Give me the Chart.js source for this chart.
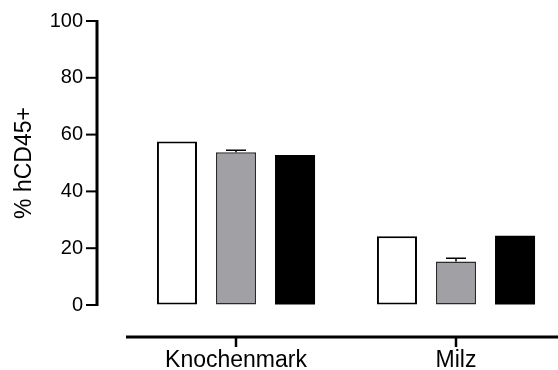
<!DOCTYPE html>
<html>
<head>
<meta charset="utf-8">
<script src="https://cdn.jsdelivr.net/npm/chart.js@4/dist/chart.umd.min.js"></script>
<style>
    html, body {margin: 0; padding: 0; background: #fff; overflow: hidden;}
    #wrap {width: 566px; height: 370px; position: relative;}
</style>
</head>
<body>
<div id="wrap"><canvas id="hcd_chart"></canvas></div>
<script>
var organs = ['Knochenmark', 'Milz'];
var group_a = [57.6, 24.2];
var group_b = [53.8, 15.3];
var group_c = [52.8, 24.4];
var err_a = [0, 0];
var err_b = [0.7, 1.2];
var err_c = [0, 0];
var y_ticks = [0, 20, 40, 60, 80, 100];

var errors = [err_a, err_b, err_c];
var font_family = "'Liberation Sans', Arial, sans-serif";

//prism style axes, pulled away from the bars
var offsetAxes = {
    id: 'offsetAxes',
    afterDatasetsDraw: function (chart) {
        var ctx = chart.ctx;
        var area = chart.chartArea;
        var y = chart.scales.y;
        var x = chart.scales.x;
        ctx.save();
        ctx.strokeStyle = '#000';

        // error bars
        ctx.lineWidth = 1.5;
        errors.forEach(function (errs, i) {
            var meta = chart.getDatasetMeta(i);
            meta.data.forEach(function (bar, j) {
                if (!errs[j]) return;
                var val = chart.data.datasets[i].data[j];
                var top = y.getPixelForValue(val + errs[j]);
                ctx.beginPath();
                ctx.moveTo(bar.x, bar.y);
                ctx.lineTo(bar.x, top);
                ctx.moveTo(bar.x - 10, top);
                ctx.lineTo(bar.x + 10, top);
                ctx.stroke();
            });
        });

        // y axis
        var ax = area.left - 29;
        ctx.lineWidth = 3;
        ctx.beginPath();
        ctx.moveTo(ax, y.getPixelForValue(0) + 1);
        ctx.lineTo(ax, y.getPixelForValue(100) - 1);
        ctx.stroke();
        ctx.lineWidth = 2;
        y_ticks.forEach(function (t) {
            var py = y.getPixelForValue(t);
            ctx.beginPath();
            ctx.moveTo(ax - 11, py);
            ctx.lineTo(ax, py);
            ctx.stroke();
        });

        // x axis
        var ay = area.bottom + 32;
        ctx.lineWidth = 3;
        ctx.beginPath();
        ctx.moveTo(area.left, ay);
        ctx.lineTo(area.right, ay);
        ctx.stroke();
        ctx.lineWidth = 2.5;
        organs.forEach(function (o, i) {
            var px = x.getPixelForValue(i);
            ctx.beginPath();
            ctx.moveTo(px, ay);
            ctx.lineTo(px, ay + 10);
            ctx.stroke();
        });
        ctx.restore();
    }
};

new Chart(document.getElementById('hcd_chart'), {
    type: 'bar',
    data: {
        labels: organs,
        datasets: [{
            data: group_a,
            backgroundColor: '#ffffff',
            borderColor: '#000000',
            borderWidth: 2,
            borderSkipped: false
        }, {
            data: group_b,
            backgroundColor: '#a1a0a5',
            borderColor: '#2a2a2a',
            borderWidth: 1.5,
            borderSkipped: false
        }, {
            data: group_c,
            backgroundColor: '#000000',
            borderColor: '#000000',
            borderWidth: 0
        }]
    },
    options: {
        responsive: true,
        maintainAspectRatio: false,
        animation: false,
        categoryPercentage: 0.805,
        barPercentage: 0.678,
        layout: {padding: {top: 21, right: 0, bottom: 0, left: 0}},
        plugins: {legend: {display: false}, tooltip: {enabled: false}},
        scales: {
            x: {
                offset: true,
                border: {display: false},
                // invisible tick marks only push the labels down
                grid: {color: 'transparent', drawOnChartArea: false, offset: false, tickLength: 42},
                ticks: {
                    color: '#000',
                    padding: 0,
                    maxRotation: 0,
                    font: {family: font_family, size: 23}
                },
                afterFit: function (s) { s.height = 65; }
            },
            y: {
                min: 0,
                max: 100,
                border: {display: false},
                grid: {color: 'transparent', drawOnChartArea: false, tickLength: 43},
                ticks: {
                    stepSize: 20,
                    color: '#000',
                    padding: 0,
                    font: {family: font_family, size: 20}
                },
                title: {
                    display: true,
                    text: '% hCD45+',
                    color: '#000',
                    padding: {top: 11, bottom: 0},
                    font: {family: font_family, size: 23}
                },
                afterFit: function (s) { s.width = 126; }
            }
        }
    },
    plugins: [offsetAxes]
});
</script>
</body>
</html>
